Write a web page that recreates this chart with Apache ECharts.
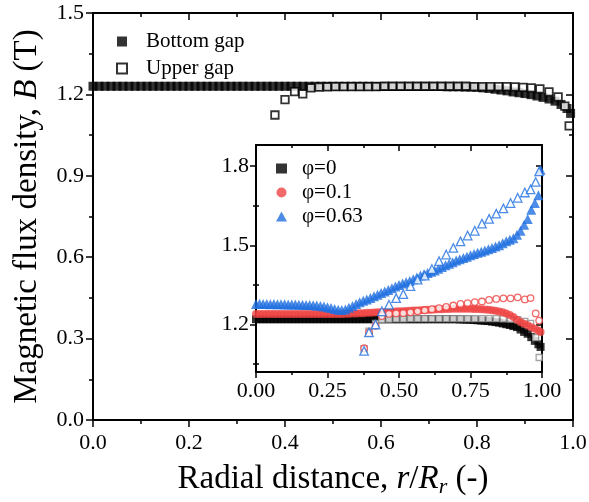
<!DOCTYPE html>
<html>
<head>
<meta charset="utf-8">
<script src="https://cdn.jsdelivr.net/npm/echarts@6/dist/echarts.min.js"></script>
<style>html,body{margin:0;padding:0;background:#fff}#c{width:589px;height:502px}</style>
</head>
<body>
<div id="c"></div>
<script>
// ---------- DATA ----------
const mainXTicks = [0, 0.2, 0.4, 0.6, 0.8, 1.0];
const mainYTicks = [0, 0.3, 0.6, 0.9, 1.2, 1.5];
const insetXTicks = [0, 0.25, 0.5, 0.75, 1.0];
const insetYTicks = [1.2, 1.5, 1.8];
const insetYMinor = [1.05, 1.35, 1.65];

// fine radial grid (bottom gap / filled series)
const rFine = [0,0.0125,0.025,0.0375,0.05,0.0625,0.075,0.0875,0.1,0.1125,0.125,0.1375,0.15,0.1625,0.175,0.1875,0.2,0.2125,0.225,0.2375,0.25,0.2625,0.275,0.2875,0.3,0.3125,0.325,0.3375,0.35,0.3625,0.375,0.3875,0.4,0.4125,0.425,0.4375,0.45,0.4625,0.475,0.4875,0.5,0.5125,0.525,0.5375,0.55,0.5625,0.575,0.5875,0.6,0.6125,0.625,0.6375,0.65,0.6625,0.675,0.6875,0.7,0.7125,0.725,0.7375,0.75,0.7625,0.775,0.7875,0.8,0.8125,0.825,0.8375,0.85,0.8625,0.875,0.8875,0.9,0.9125,0.925,0.9375,0.95,0.9625,0.975,0.9875,0.995];

// main chart: bottom gap (filled squares)
const mainBottom = [1.23,1.23,1.23,1.23,1.23,1.23,1.23,1.23,1.23,1.23,1.23,1.23,1.23,1.23,1.23,1.23,1.23,1.23,1.23,1.23,1.23,1.23,1.23,1.23,1.23,1.23,1.23,1.23,1.23,1.23,1.23,1.23,1.23,1.23,1.23,1.23,1.23,1.23,1.23,1.23,1.23,1.23,1.23,1.23,1.23,1.23,1.23,1.23,1.229,1.229,1.229,1.229,1.229,1.229,1.229,1.229,1.229,1.229,1.229,1.228,1.228,1.228,1.227,1.227,1.226,1.224,1.222,1.219,1.216,1.213,1.209,1.206,1.203,1.199,1.194,1.189,1.183,1.175,1.163,1.148,1.13];

// main chart: upper gap (hollow squares)
const rMainUp = [0.379,0.40,0.42,0.437,0.454,0.471,0.488,0.505,0.522,0.539,0.556,0.573,0.590,0.607,0.624,0.641,0.658,0.675,0.692,0.709,0.726,0.743,0.760,0.777,0.794,0.811,0.828,0.845,0.862,0.879,0.896,0.913,0.931,0.95,0.969,0.983,0.992];
const mainUpper = [1.124,1.181,1.21,1.202,1.224,1.227,1.228,1.229,1.229,1.229,1.229,1.229,1.229,1.23,1.23,1.23,1.23,1.23,1.23,1.23,1.23,1.23,1.23,1.23,1.229,1.229,1.229,1.229,1.229,1.228,1.226,1.224,1.22,1.209,1.191,1.157,1.084];

// inset: filled (bottom gap) series on rFine
const phi0Bottom = [1.22,1.22,1.22,1.22,1.22,1.22,1.22,1.22,1.22,1.22,1.22,1.22,1.22,1.22,1.22,1.22,1.22,1.22,1.22,1.22,1.22,1.22,1.22,1.22,1.22,1.22,1.22,1.22,1.22,1.22,1.22,1.22,1.22,1.22,1.22,1.22,1.22,1.22,1.22,1.22,1.22,1.22,1.22,1.22,1.22,1.22,1.22,1.22,1.22,1.22,1.22,1.22,1.22,1.22,1.22,1.22,1.22,1.219,1.219,1.218,1.218,1.217,1.216,1.215,1.214,1.213,1.211,1.209,1.207,1.204,1.201,1.198,1.194,1.19,1.181,1.172,1.165,1.152,1.138,1.125,1.115];
const phi01Bottom = [1.24,1.24,1.24,1.24,1.24,1.24,1.24,1.24,1.24,1.24,1.24,1.24,1.24,1.24,1.24,1.24,1.24,1.24,1.24,1.24,1.24,1.24,1.24,1.24,1.24,1.241,1.241,1.242,1.242,1.243,1.243,1.244,1.244,1.245,1.246,1.246,1.247,1.248,1.248,1.249,1.25,1.25,1.251,1.252,1.253,1.253,1.254,1.255,1.256,1.256,1.257,1.258,1.258,1.259,1.259,1.26,1.26,1.26,1.26,1.26,1.26,1.259,1.259,1.258,1.257,1.256,1.254,1.252,1.249,1.246,1.242,1.236,1.228,1.218,1.209,1.203,1.197,1.19,1.184,1.177,1.172];
const phi063Bottom = [1.278,1.279,1.278,1.278,1.277,1.278,1.277,1.277,1.277,1.276,1.276,1.276,1.275,1.275,1.274,1.274,1.273,1.272,1.27,1.268,1.265,1.262,1.259,1.256,1.255,1.257,1.263,1.27,1.278,1.284,1.29,1.295,1.30,1.307,1.313,1.319,1.325,1.331,1.337,1.344,1.35,1.355,1.36,1.365,1.371,1.378,1.386,1.39,1.395,1.40,1.405,1.411,1.418,1.424,1.43,1.436,1.442,1.447,1.452,1.457,1.462,1.467,1.472,1.476,1.48,1.485,1.49,1.495,1.50,1.508,1.515,1.521,1.527,1.54,1.555,1.578,1.60,1.635,1.66,1.69,1.786];

// inset: hollow (upper gap) series
const rUp = [0.378,0.395,0.418,0.44,0.465,0.49,0.515,0.54,0.565,0.59,0.615,0.64,0.665,0.69,0.715,0.74,0.765,0.79,0.815,0.84,0.865,0.89,0.915,0.94,0.96,0.978,0.99];
const phi0Upper = [1.108,1.175,1.204,1.218,1.22,1.221,1.221,1.222,1.222,1.222,1.222,1.222,1.222,1.222,1.222,1.222,1.222,1.222,1.222,1.222,1.221,1.22,1.218,1.212,1.204,1.15,1.075];
const phi01Upper = [1.11,1.17,1.195,1.232,1.24,1.242,1.243,1.246,1.25,1.254,1.258,1.262,1.267,1.272,1.278,1.281,1.285,1.287,1.293,1.297,1.299,1.299,1.303,1.295,1.30,1.242,1.215];
const phi063Upper = [1.10,1.17,1.20,1.25,1.275,1.30,1.315,1.345,1.37,1.385,1.41,1.44,1.465,1.49,1.515,1.537,1.555,1.582,1.60,1.62,1.64,1.66,1.68,1.70,1.712,1.74,1.78];

const seriesNames = ['Bottom gap', 'Upper gap', 'φ=0', 'φ=0.1', 'φ=0.63'];

// ---------- CHART ----------
const FONT = 'Liberation Serif';
const RED = '#EF4444';
const BLUE = '#1F6FE0';
const zip = (xs, ys) => xs.map((x, i) => [x, ys[i]]);

const lineStyle = { color: '#000', width: 2 };
function mkX(gridIndex, opts) {
  return Object.assign({
    type: 'value', gridIndex, min: 0, max: 1,
    axisLine: { show: true, onZero: false, lineStyle },
    splitLine: { show: false },
    axisTick: { show: true, inside: false, length: 7, lineStyle: { color: '#000', width: 1.5 } },
    minorTick: { show: true, splitNumber: 2, length: 4, lineStyle: { color: '#000', width: 1.5 } },
    axisLabel: { show: true, color: '#000', fontFamily: FONT, fontSize: 22 }
  }, opts);
}
function mkY(gridIndex, opts) {
  return Object.assign({
    type: 'value', gridIndex,
    axisLine: { show: true, onZero: false, lineStyle },
    splitLine: { show: false },
    axisTick: { show: true, inside: false, length: 7, lineStyle: { color: '#000', width: 1.5 } },
    minorTick: { show: true, splitNumber: 2, length: 4, lineStyle: { color: '#000', width: 1.5 } },
    axisLabel: { show: true, color: '#000', fontFamily: FONT, fontSize: 22 }
  }, opts);
}

const option = {
  animation: false,
  backgroundColor: '#fff',
  grid: [
    { left: 93, top: 13, width: 480, height: 407, containLabel: false, outerBoundsMode: 'none' },
    { left: 256, top: 145, width: 286, height: 227, containLabel: false, outerBoundsMode: 'none', show: true, backgroundColor: '#fff', borderWidth: 0 }
  ],
  xAxis: [
    mkX(0, { interval: 0.2, axisLabel: { color: '#000', fontFamily: FONT, fontSize: 22, margin: 12, formatter: v => v.toFixed(1) },
      name: '{n|Radial distance, }{i|r}{n|/}{i|R}{s|r}{n| (-)}', nameLocation: 'middle', nameGap: 41,
      nameTextStyle: { rich: {
        n: { fontFamily: FONT, fontSize: 33, color: '#000' },
        i: { fontFamily: FONT, fontSize: 33, fontStyle: 'italic', color: '#000' },
        s: { fontFamily: FONT, fontSize: 22, fontStyle: 'italic', color: '#000', padding: [15, 0, 0, 0] }
      } } }),
    mkX(0, { position: 'top', interval: 0.2, axisLabel: { show: false },
      axisTick: { show: true, inside: true, length: 7, lineStyle: { color: '#000', width: 1.5 } },
      minorTick: { show: true, splitNumber: 2, length: 4, lineStyle: { color: '#000', width: 1.5 } } }),
    mkX(1, { interval: 0.25, axisTick: { show: true, inside: false, length: 6, lineStyle: { color: '#000', width: 1.5 } },
      minorTick: { show: true, splitNumber: 2, length: 3, lineStyle: { color: '#000', width: 1.5 } },
      axisLabel: { color: '#000', fontFamily: FONT, fontSize: 22, margin: 8, formatter: v => v.toFixed(2) } }),
    mkX(1, { position: 'top', interval: 0.25, axisLabel: { show: false },
      axisTick: { show: true, inside: true, length: 6, lineStyle: { color: '#000', width: 1.5 } },
      minorTick: { show: true, splitNumber: 2, length: 3, lineStyle: { color: '#000', width: 1.5 } } })
  ],
  yAxis: [
    mkY(0, { min: 0, max: 1.5, interval: 0.3, axisLabel: { color: '#000', fontFamily: FONT, fontSize: 22, margin: 9, formatter: v => v.toFixed(1) },
      name: '{n|Magnetic flux density, }{i|B}{n| (T)}', nameLocation: 'middle', nameGap: 49,
      nameTextStyle: { rich: {
        n: { fontFamily: FONT, fontSize: 33, color: '#000' },
        i: { fontFamily: FONT, fontSize: 33, fontStyle: 'italic', color: '#000' }
      } } }),
    mkY(0, { min: 0, max: 1.5, interval: 0.3, position: 'right', axisLabel: { show: false },
      axisTick: { show: true, inside: true, length: 7, lineStyle: { color: '#000', width: 1.5 } },
      minorTick: { show: true, splitNumber: 2, length: 4, lineStyle: { color: '#000', width: 1.5 } } }),
    mkY(1, { min: 1.02, max: 1.88, minorTick: { show: false },
      axisTick: { show: true, inside: false, length: 6, customValues: insetYTicks, lineStyle: { color: '#000', width: 1.5 } },
      axisLabel: { color: '#000', fontFamily: FONT, fontSize: 22, margin: 7, customValues: insetYTicks, formatter: v => v.toFixed(1) } }),
    mkY(1, { min: 1.02, max: 1.88, position: 'right', minorTick: { show: false }, axisLabel: { show: false },
      axisTick: { show: true, inside: true, length: 6, customValues: insetYTicks, lineStyle: { color: '#000', width: 1.5 } } }),
    mkY(1, { min: 1.02, max: 1.88, minorTick: { show: false }, axisLine: { show: false }, axisLabel: { show: false },
      axisTick: { show: true, inside: false, length: 3, customValues: insetYMinor, lineStyle: { color: '#000', width: 1.5 } } }),
    mkY(1, { min: 1.02, max: 1.88, position: 'right', minorTick: { show: false }, axisLine: { show: false }, axisLabel: { show: false },
      axisTick: { show: true, inside: true, length: 3, customValues: insetYMinor, lineStyle: { color: '#000', width: 1.5 } } })
  ],
  legend: [
    { data: [seriesNames[0], seriesNames[1]], orient: 'vertical', left: 111, top: 26, itemWidth: 10, itemHeight: 10, itemGap: 6,
      textStyle: { fontFamily: FONT, fontSize: 21, color: '#000', padding: [0, 0, 0, 14] }, selectedMode: false },
    { data: [seriesNames[2], seriesNames[3], seriesNames[4]], orient: 'vertical', left: 271, top: 153, itemWidth: 11, itemHeight: 10, itemGap: 3,
      textStyle: { fontFamily: FONT, fontSize: 21, color: '#000', padding: [0, 0, 0, 10] }, selectedMode: false }
  ],
  series: [
    { name: seriesNames[0], type: 'scatter', xAxisIndex: 0, yAxisIndex: 0, symbol: 'rect', symbolSize: 9,
      itemStyle: { color: '#000' }, data: zip(rFine, mainBottom), z: 2, clip: false },
    { name: seriesNames[1], type: 'scatter', xAxisIndex: 0, yAxisIndex: 0, symbol: 'rect', symbolSize: 7.5,
      itemStyle: { color: '#fff', borderColor: '#000', borderWidth: 1.8 }, data: zip(rMainUp, mainUpper), z: 3, clip: false },

    { name: seriesNames[2], type: 'scatter', xAxisIndex: 2, yAxisIndex: 2, symbol: 'rect', symbolSize: 8,
      itemStyle: { color: '#000' }, data: zip(rFine, phi0Bottom), z: 4 },
    { name: 'φ=0 upper', type: 'scatter', xAxisIndex: 2, yAxisIndex: 2, symbol: 'rect', symbolSize: 6,
      itemStyle: { color: '#fff', borderColor: '#8c8c8c', borderWidth: 1.3 }, data: zip(rUp, phi0Upper), z: 5 },
    { name: seriesNames[3], type: 'scatter', xAxisIndex: 2, yAxisIndex: 2, symbol: 'circle', symbolSize: 8,
      itemStyle: { color: RED }, data: zip(rFine, phi01Bottom), z: 6 },
    { name: 'φ=0.1 upper', type: 'scatter', xAxisIndex: 2, yAxisIndex: 2, symbol: 'circle', symbolSize: 6.5,
      itemStyle: { color: '#fff', borderColor: RED, borderWidth: 1.3 }, data: zip(rUp, phi01Upper), z: 7 },
    { name: seriesNames[4], type: 'scatter', xAxisIndex: 2, yAxisIndex: 2, symbol: 'triangle', symbolSize: 10,
      itemStyle: { color: BLUE }, data: zip(rFine, phi063Bottom), z: 8 },
    { name: 'φ=0.63 upper', type: 'scatter', xAxisIndex: 2, yAxisIndex: 2, symbol: 'triangle', symbolSize: 8.5,
      itemStyle: { color: '#fff', borderColor: BLUE, borderWidth: 1.3 }, data: zip(rUp, phi063Upper), z: 9 }
  ]
};

const chart = echarts.init(document.getElementById('c'), null, { renderer: 'canvas' });
chart.setOption(option);
</script>
</body>
</html>
